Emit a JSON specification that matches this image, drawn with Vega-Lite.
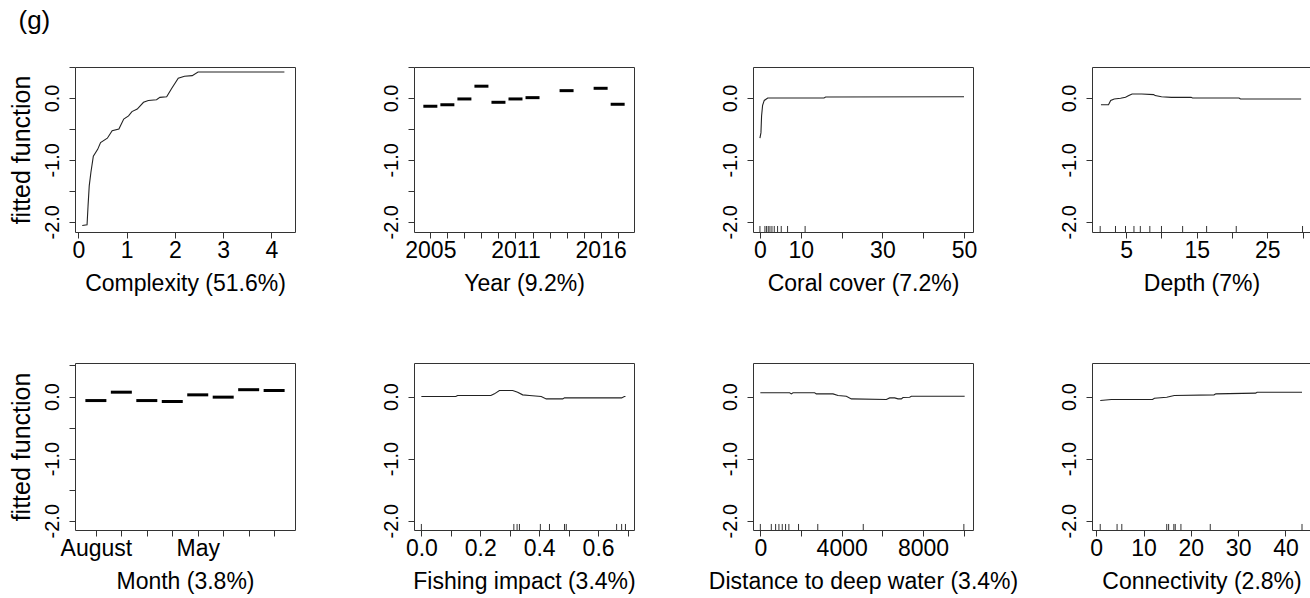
{
  "$schema": "https://vega.github.io/schema/vega-lite/v6.json",
  "padding": {"left": 8, "top": 8, "right": 0, "bottom": 0},
  "title": {"text": "(g)", "anchor": "start", "fontSize": 26, "fontWeight": "normal", "color": "#000", "font": "Liberation Sans", "offset": 32, "dx": 10},
  "columns": 4,
  "spacing": {"row": 131, "column": 119},
  "bounds": "flush",
  "datasets": {
    "complexity": [
      {"x": 0.08, "y": -2.06}, {"x": 0.18, "y": -2.05}, {"x": 0.2, "y": -1.75}, {"x": 0.225, "y": -1.42},
      {"x": 0.26, "y": -1.2}, {"x": 0.31, "y": -0.94}, {"x": 0.4, "y": -0.83}, {"x": 0.46, "y": -0.72},
      {"x": 0.6, "y": -0.65}, {"x": 0.7, "y": -0.53}, {"x": 0.84, "y": -0.5}, {"x": 0.94, "y": -0.34},
      {"x": 1.04, "y": -0.29}, {"x": 1.11, "y": -0.22}, {"x": 1.22, "y": -0.18}, {"x": 1.35, "y": -0.07},
      {"x": 1.45, "y": -0.04}, {"x": 1.62, "y": -0.03}, {"x": 1.69, "y": 0.01}, {"x": 1.83, "y": 0.02},
      {"x": 1.93, "y": 0.15}, {"x": 2.07, "y": 0.32}, {"x": 2.2, "y": 0.35}, {"x": 2.36, "y": 0.36},
      {"x": 2.48, "y": 0.42}, {"x": 4.27, "y": 0.42}
    ],
    "year": [
      {"year": "2005", "y": -0.134}, {"year": "2006", "y": -0.108}, {"year": "2007", "y": -0.016},
      {"year": "2008", "y": 0.19}, {"year": "2009", "y": -0.07}, {"year": "2011", "y": -0.016},
      {"year": "2012", "y": 0.005}, {"year": "2014", "y": 0.118}, {"year": "2016", "y": 0.156},
      {"year": "2017", "y": -0.102}
    ],
    "coral": [
      {"x": 0, "y": -0.65}, {"x": 0.25, "y": -0.56}, {"x": 0.4, "y": -0.29}, {"x": 0.65, "y": -0.12},
      {"x": 1.06, "y": -0.04}, {"x": 1.9, "y": 0}, {"x": 15.7, "y": 0}, {"x": 16.1, "y": 0.015}, {"x": 50, "y": 0.02}
    ],
    "coralRug": [
      {"x": 0}, {"x": 1.22}, {"x": 1.63}, {"x": 2.04}, {"x": 2.45}, {"x": 2.94}, {"x": 3.51}, {"x": 4.32}, {"x": 5.22}, {"x": 6.77}, {"x": 11.07}
    ],
    "depth": [
      {"x": 1.42, "y": -0.11}, {"x": 2.49, "y": -0.11}, {"x": 2.8, "y": -0.04}, {"x": 3.3, "y": -0.016},
      {"x": 4.2, "y": -0.005}, {"x": 4.9, "y": 0.01}, {"x": 5.37, "y": 0.038}, {"x": 5.84, "y": 0.065},
      {"x": 7.2, "y": 0.065}, {"x": 8.9, "y": 0.054}, {"x": 9.1, "y": 0.038}, {"x": 10, "y": 0.02},
      {"x": 11.4, "y": 0.01}, {"x": 14.2, "y": 0.01}, {"x": 14.4, "y": 0}, {"x": 21, "y": 0},
      {"x": 21.2, "y": -0.016}, {"x": 29.8, "y": -0.016}
    ],
    "depthRug": [
      {"x": 1.31}, {"x": 3.48}, {"x": 4.9}, {"x": 6.1}, {"x": 7.0}, {"x": 8.35}, {"x": 10.0}, {"x": 13.0}, {"x": 16.4}, {"x": 20.6}, {"x": 30.0}
    ],
    "month": [
      {"month": "August", "y": -0.065}, {"month": "December", "y": 0.07}, {"month": "February", "y": -0.065},
      {"month": "March", "y": -0.08}, {"month": "May", "y": 0.027}, {"month": "November", "y": -0.01},
      {"month": "October", "y": 0.11}, {"month": "September", "y": 0.097}
    ],
    "fishing": [
      {"x": 0, "y": 0}, {"x": 0.117, "y": 0}, {"x": 0.123, "y": 0.016}, {"x": 0.236, "y": 0.016},
      {"x": 0.248, "y": 0.043}, {"x": 0.265, "y": 0.097}, {"x": 0.31, "y": 0.097}, {"x": 0.327, "y": 0.07},
      {"x": 0.344, "y": 0.027}, {"x": 0.367, "y": 0.016}, {"x": 0.407, "y": 0}, {"x": 0.424, "y": -0.038},
      {"x": 0.48, "y": -0.038}, {"x": 0.486, "y": -0.022}, {"x": 0.68, "y": -0.022}, {"x": 0.689, "y": 0},
      {"x": 0.693, "y": 0}
    ],
    "fishingRug": [
      {"x": 0.0}, {"x": 0.314}, {"x": 0.325}, {"x": 0.333}, {"x": 0.404}, {"x": 0.435}, {"x": 0.486}, {"x": 0.492}, {"x": 0.663}, {"x": 0.68}, {"x": 0.693}
    ],
    "distance": [
      {"x": 0, "y": 0.06}, {"x": 1443, "y": 0.06}, {"x": 1525, "y": 0.043}, {"x": 1607, "y": 0.06},
      {"x": 2672, "y": 0.06}, {"x": 2754, "y": 0.043}, {"x": 3574, "y": 0.043}, {"x": 3820, "y": 0.016},
      {"x": 4230, "y": 0.005}, {"x": 4475, "y": -0.038}, {"x": 6197, "y": -0.049}, {"x": 6361, "y": -0.022},
      {"x": 6607, "y": -0.022}, {"x": 6770, "y": -0.038}, {"x": 6934, "y": -0.038}, {"x": 7016, "y": -0.016},
      {"x": 7344, "y": -0.011}, {"x": 7426, "y": 0.005}, {"x": 10049, "y": 0.005}
    ],
    "distanceRug": [
      {"x": 0}, {"x": 539}, {"x": 751}, {"x": 914}, {"x": 1078}, {"x": 1241}, {"x": 1404}, {"x": 1878}, {"x": 2825}, {"x": 5062}, {"x": 10010}
    ],
    "connectivity": [
      {"x": 0.84, "y": -0.065}, {"x": 3.2, "y": -0.049}, {"x": 11.9, "y": -0.049}, {"x": 12.3, "y": -0.027},
      {"x": 14.9, "y": -0.011}, {"x": 16.5, "y": 0.016}, {"x": 24.9, "y": 0.027}, {"x": 25.3, "y": 0.043},
      {"x": 33.7, "y": 0.054}, {"x": 34.0, "y": 0.07}, {"x": 43.5, "y": 0.07}
    ],
    "connectivityRug": [
      {"x": 0.84}, {"x": 4.4}, {"x": 5.4}, {"x": 14.9}, {"x": 15.3}, {"x": 16.4}, {"x": 16.7}, {"x": 17.9}, {"x": 24.1}, {"x": 43.5}
    ]
  },
  "concat": [
    {
      "width": 220, "height": 165,
      "data": {"name": "complexity"},
      "mark": {"type": "line", "color": "#222", "strokeWidth": 1.1},
      "encoding": {
        "x": {"field": "x", "type": "quantitative", "scale": {"domain": [-0.07, 4.49], "nice": false, "zero": false},
              "axis": {"values": [0, 1, 2, 3, 4], "title": "Complexity (51.6%)"}},
        "y": {"field": "y", "type": "quantitative", "scale": {"domain": [-2.165, 0.5], "nice": false, "zero": false},
              "axis": {"values": [-2, -1.5, -1, -0.5, 0, 0.5], "labelExpr": "datum.value == 0 ? '0.0' : datum.value == -1 ? '-1.0' : datum.value == -2 ? '-2.0' : ''", "title": "fitted function"}}
      }
    },
    {
      "width": 220, "height": 165,
      "data": {"name": "year"},
      "mark": {"type": "tick", "orient": "horizontal", "size": 14, "thickness": 3, "color": "#000", "opacity": 1},
      "encoding": {
        "x": {"field": "year", "type": "ordinal", "sort": null,
              "scale": {"type": "point", "padding": 0.96, "domain": ["2005", "2006", "2007", "2008", "2009", "2011", "2012", "2013", "2014", "2015", "2016", "2017"]},
              "axis": {"labelExpr": "datum.value == '2005' || datum.value == '2011' || datum.value == '2016' ? datum.value : ''", "title": "Year (9.2%)"}},
        "y": {"field": "y", "type": "quantitative", "scale": {"domain": [-2.165, 0.5], "nice": false, "zero": false},
              "axis": {"values": [-2, -1.5, -1, -0.5, 0, 0.5], "labelExpr": "datum.value == 0 ? '0.0' : datum.value == -1 ? '-1.0' : datum.value == -2 ? '-2.0' : ''", "title": null}}
      }
    },
    {
      "width": 220, "height": 165,
      "encoding": {
        "x": {"field": "x", "type": "quantitative", "scale": {"domain": [-1.7, 52.2], "nice": false, "zero": false},
              "axis": {"values": [0, 10, 20, 30, 40, 50], "labelExpr": "datum.value == 20 || datum.value == 40 ? '' : datum.label", "title": "Coral cover (7.2%)"}}
      },
      "layer": [
        {
          "data": {"name": "coral"},
          "mark": {"type": "line", "color": "#222", "strokeWidth": 1.1},
          "encoding": {
            "y": {"field": "y", "type": "quantitative", "scale": {"domain": [-2.165, 0.5], "nice": false, "zero": false},
                  "axis": {"values": [-2, -1.5, -1, -0.5, 0, 0.5], "labelExpr": "datum.value == 0 ? '0.0' : datum.value == -1 ? '-1.0' : datum.value == -2 ? '-2.0' : ''", "title": null}}
          }
        },
        {
          "data": {"name": "coralRug"},
          "mark": {"type": "rule", "color": "#333", "strokeWidth": 1},
          "encoding": {"y": {"datum": -2.165}, "y2": {"datum": -2.068}}
        }
      ]
    },
    {
      "width": 219, "height": 165,
      "encoding": {
        "x": {"field": "x", "type": "quantitative", "scale": {"domain": [0.15, 31.2], "nice": false, "zero": false},
              "axis": {"values": [5, 10, 15, 20, 25, 30], "labelExpr": "datum.value == 5 || datum.value == 15 || datum.value == 25 ? datum.label : ''", "title": "Depth (7%)"}}
      },
      "layer": [
        {
          "data": {"name": "depth"},
          "mark": {"type": "line", "color": "#222", "strokeWidth": 1.1},
          "encoding": {
            "y": {"field": "y", "type": "quantitative", "scale": {"domain": [-2.165, 0.5], "nice": false, "zero": false},
                  "axis": {"values": [-2, -1.5, -1, -0.5, 0, 0.5], "labelExpr": "datum.value == 0 ? '0.0' : datum.value == -1 ? '-1.0' : datum.value == -2 ? '-2.0' : ''", "title": null}}
          }
        },
        {
          "data": {"name": "depthRug"},
          "mark": {"type": "rule", "color": "#333", "strokeWidth": 1},
          "encoding": {"y": {"datum": -2.165}, "y2": {"datum": -2.068}}
        }
      ]
    },
    {
      "width": 220, "height": 167,
      "data": {"name": "month"},
      "mark": {"type": "tick", "orient": "horizontal", "size": 21, "thickness": 3, "color": "#000", "opacity": 1},
      "encoding": {
        "x": {"field": "month", "type": "ordinal", "sort": null,
              "scale": {"type": "point", "padding": 0.82, "domain": ["August", "December", "February", "March", "May", "November", "October", "September"]},
              "axis": {"labelExpr": "datum.value == 'August' || datum.value == 'May' ? datum.value : ''", "title": "Month (3.8%)"}},
        "y": {"field": "y", "type": "quantitative", "scale": {"domain": [-2.15, 0.54], "nice": false, "zero": false},
              "axis": {"values": [-2, -1.5, -1, -0.5, 0, 0.5], "labelExpr": "datum.value == 0 ? '0.0' : datum.value == -1 ? '-1.0' : datum.value == -2 ? '-2.0' : ''", "title": "fitted function"}}
      }
    },
    {
      "width": 220, "height": 167,
      "encoding": {
        "x": {"field": "x", "type": "quantitative", "scale": {"domain": [-0.025, 0.722], "nice": false, "zero": false},
              "axis": {"values": [0, 0.1, 0.2, 0.3, 0.4, 0.5, 0.6, 0.7], "labelExpr": "datum.value == 0 || datum.value == 0.2 || datum.value == 0.4 || datum.value == 0.6 ? format(datum.value, '.1f') : ''", "title": "Fishing impact (3.4%)"}}
      },
      "layer": [
        {
          "data": {"name": "fishing"},
          "mark": {"type": "line", "color": "#222", "strokeWidth": 1.1},
          "encoding": {
            "y": {"field": "y", "type": "quantitative", "scale": {"domain": [-2.15, 0.54], "nice": false, "zero": false},
                  "axis": {"values": [-2, -1.5, -1, -0.5, 0, 0.5], "labelExpr": "datum.value == 0 ? '0.0' : datum.value == -1 ? '-1.0' : datum.value == -2 ? '-2.0' : ''", "title": null}}
          }
        },
        {
          "data": {"name": "fishingRug"},
          "mark": {"type": "rule", "color": "#333", "strokeWidth": 1},
          "encoding": {"y": {"datum": -2.15}, "y2": {"datum": -2.053}}
        }
      ]
    },
    {
      "width": 220, "height": 167,
      "encoding": {
        "x": {"field": "x", "type": "quantitative", "scale": {"domain": [-361, 10459], "nice": false, "zero": false},
              "axis": {"values": [0, 2000, 4000, 6000, 8000, 10000], "labelExpr": "datum.value == 0 || datum.value == 4000 || datum.value == 8000 ? format(datum.value, 'd') : ''", "title": "Distance to deep water (3.4%)"}}
      },
      "layer": [
        {
          "data": {"name": "distance"},
          "mark": {"type": "line", "color": "#222", "strokeWidth": 1.1},
          "encoding": {
            "y": {"field": "y", "type": "quantitative", "scale": {"domain": [-2.15, 0.54], "nice": false, "zero": false},
                  "axis": {"values": [-2, -1.5, -1, -0.5, 0, 0.5], "labelExpr": "datum.value == 0 ? '0.0' : datum.value == -1 ? '-1.0' : datum.value == -2 ? '-2.0' : ''", "title": null}}
          }
        },
        {
          "data": {"name": "distanceRug"},
          "mark": {"type": "rule", "color": "#333", "strokeWidth": 1},
          "encoding": {"y": {"datum": -2.15}, "y2": {"datum": -2.053}}
        }
      ]
    },
    {
      "width": 219, "height": 167,
      "encoding": {
        "x": {"field": "x", "type": "quantitative", "scale": {"domain": [-0.9, 45.4], "nice": false, "zero": false},
              "axis": {"values": [0, 10, 20, 30, 40], "title": "Connectivity (2.8%)"}}
      },
      "layer": [
        {
          "data": {"name": "connectivity"},
          "mark": {"type": "line", "color": "#222", "strokeWidth": 1.1},
          "encoding": {
            "y": {"field": "y", "type": "quantitative", "scale": {"domain": [-2.15, 0.54], "nice": false, "zero": false},
                  "axis": {"values": [-2, -1.5, -1, -0.5, 0, 0.5], "labelExpr": "datum.value == 0 ? '0.0' : datum.value == -1 ? '-1.0' : datum.value == -2 ? '-2.0' : ''", "title": null}}
          }
        },
        {
          "data": {"name": "connectivityRug"},
          "mark": {"type": "rule", "color": "#333", "strokeWidth": 1},
          "encoding": {"y": {"datum": -2.15}, "y2": {"datum": -2.053}}
        }
      ]
    }
  ],
  "config": {
    "font": "Liberation Sans",
    "background": "#ffffff",
    "view": {"stroke": "#333", "strokeWidth": 1},
    "axis": {"domain": false, "grid": false, "ticks": true, "tickColor": "#333", "tickSize": 6, "tickWidth": 1,
             "labelColor": "#000", "titleColor": "#000", "labelFont": "Liberation Sans", "titleFont": "Liberation Sans", "titleFontWeight": "normal"},
    "axisX": {"labelFontSize": 23, "titleFontSize": 23, "labelPadding": 1, "titlePadding": 10, "labelAngle": 0, "labelFlush": false, "labelOverlap": false, "labelBaseline": "top"},
    "axisY": {"labelFontSize": 20, "titleFontSize": 25, "labelAngle": 270, "labelAlign": "center", "labelBaseline": "alphabetic", "labelPadding": 11, "titlePadding": 8, "labelOverlap": false, "labelFlush": false}
  }
}
